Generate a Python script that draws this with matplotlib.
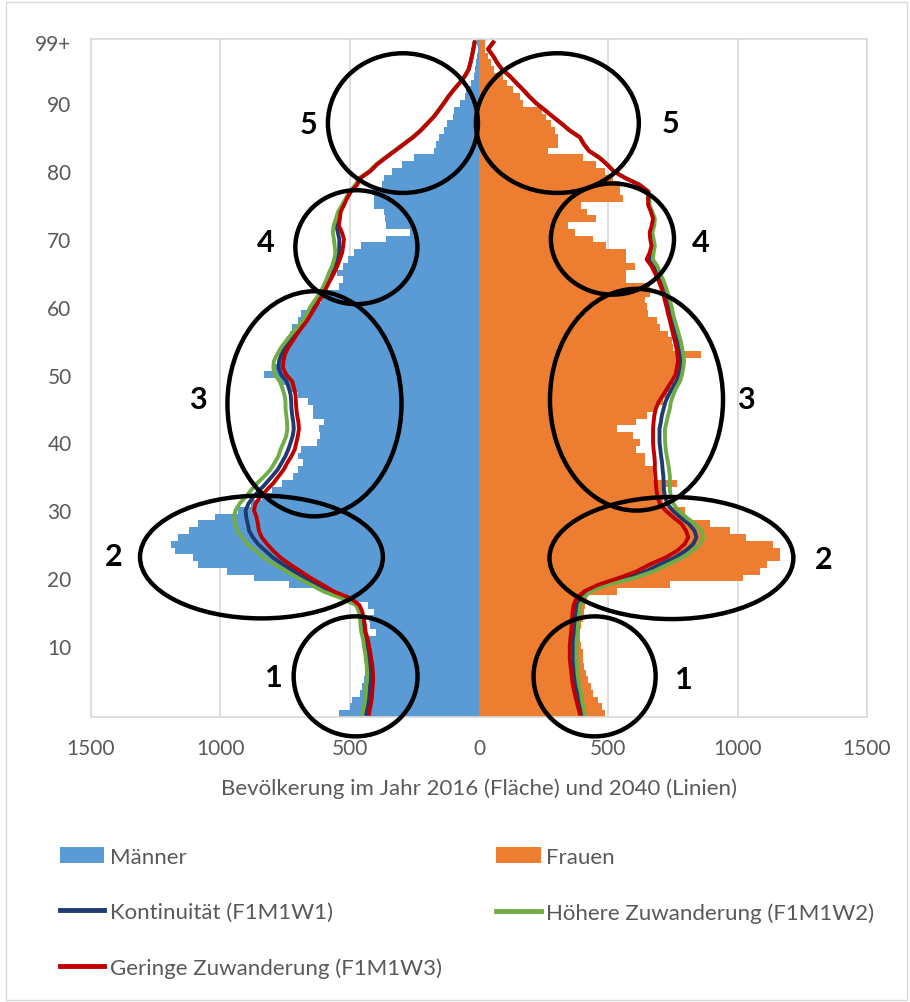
import numpy as np
import matplotlib
matplotlib.use("Agg")
import matplotlib.pyplot as plt
from matplotlib.patches import Ellipse, Patch, Rectangle
from matplotlib.lines import Line2D

plt.rcParams['font.family'] = ['Lato', 'DejaVu Sans']

# Altersjahre 0 .. 99+ (eine Zeile je Jahrgang)
ages = np.arange(100)
age_ticks = [10, 20, 30, 40, 50, 60, 70, 80, 90, 99]
age_tick_labels = ['10', '20', '30', '40', '50', '60', '70', '80', '90', '99+']
x_ticks = [-1500, -1000, -500, 0, 500, 1000, 1500]

# Bevölkerung 2016 (Flächen)
maenner_2016 = [540, 498, 490, 460, 452, 446, 440, 438, 436, 432,
                430, 425, 400, 420, 425, 405, 430, 505, 575, 735,
                870, 975, 1085, 1105, 1175, 1190, 1165, 1120, 1085, 1020,
                930, 880, 840, 800, 760, 720, 700, 680, 700, 690,
                625, 615, 620, 600, 640, 640, 660, 700, 730, 770,
                830, 795, 770, 760, 745, 745, 730, 722, 700, 690,
                640, 610, 600, 540, 525, 548, 524, 505, 485, 458,
                360, 265, 360, 362, 368, 405, 405, 412, 375, 368,
                335, 297, 252, 175, 168, 155, 136, 123, 100, 95,
                72, 55, 50, 30, 18, 14, 10, 7, 5, 8]
frauen_2016 = [487, 474, 461, 441, 435, 422, 415, 405, 403, 403,
               395, 390, 390, 395, 403, 405, 410, 416, 532, 738,
               1021, 1086, 1112, 1163, 1163, 1137, 1034, 970, 892, 796,
               796, 712, 712, 712, 764, 673, 673, 641, 641, 609,
               622, 596, 532, 609, 648, 690, 712, 725, 740, 750,
               770, 790, 790, 860, 750, 745, 731, 700, 690, 655,
               650, 641, 660, 660, 570, 570, 602, 570, 570, 493,
               441, 371, 345, 454, 416, 396, 557, 545, 545, 519,
               486, 454, 403, 267, 306, 306, 293, 280, 261, 242,
               171, 158, 132, 110, 93, 60, 48, 35, 25, 22]

# Bevölkerung 2040 je Variante (Linien)
maenner_w1 = [437, 431, 426, 424, 422, 420, 420, 422, 425, 429,
              434, 438, 446, 449, 452, 457, 468, 511, 578, 625,
              672, 715, 757, 796, 825, 854, 874, 889, 894, 900,
              902, 891, 871, 847, 823, 800, 778, 763, 748, 737,
              728, 720, 716, 718, 722, 725, 726, 728, 735, 744,
              765, 775, 773, 764, 750, 731, 713, 692, 671, 656,
              641, 625, 607, 594, 581, 569, 557, 548, 541, 540,
              540, 546, 551, 545, 540, 526, 512, 497, 474, 460,
              422, 396, 362, 326, 291, 256, 226, 201, 176, 156,
              137, 119, 98, 75, 55, 40, 33, 27, 22, 17]
maenner_w2 = [451, 445, 440, 438, 436, 433, 432, 434, 437, 440,
              445, 448, 455, 458, 460, 464, 475, 530, 600, 650,
              700, 745, 790, 831, 862, 896, 915, 935, 942, 948,
              941, 925, 902, 880, 857, 830, 806, 790, 775, 767,
              755, 745, 741, 742, 745, 748, 748, 752, 760, 770,
              790, 795, 793, 780, 765, 745, 725, 702, 680, 665,
              652, 634, 615, 602, 590, 580, 568, 560, 555, 558,
              561, 565, 562, 553, 545, 530, 515, 500, 478, 462,
              425, 398, 364, 328, 293, 258, 228, 203, 177, 157,
              138, 120, 99, 76, 56, 41, 33, 27, 22, 17]
maenner_w3 = [425, 420, 415, 413, 411, 409, 410, 412, 416, 420,
              425, 430, 438, 441, 445, 451, 462, 495, 560, 605,
              650, 690, 730, 767, 795, 819, 840, 851, 855, 860,
              870, 864, 845, 820, 795, 775, 755, 741, 725, 712,
              706, 700, 696, 698, 703, 706, 708, 709, 715, 722,
              745, 758, 756, 750, 738, 720, 703, 684, 664, 648,
              632, 617, 600, 588, 574, 560, 548, 538, 529, 525,
              522, 530, 542, 538, 535, 522, 510, 495, 471, 458,
              420, 394, 360, 325, 290, 255, 225, 200, 175, 155,
              136, 118, 98, 75, 55, 40, 33, 27, 22, 17]
frauen_w1 = [400, 395, 388, 384, 377, 373, 370, 368, 365, 365,
             365, 367, 370, 372, 374, 376, 380, 391, 419, 479,
             573, 646, 699, 756, 798, 828, 841, 833, 811, 778,
             748, 728, 719, 715, 714, 713, 710, 708, 704, 701,
             698, 698, 698, 703, 707, 714, 721, 733, 747, 763,
             774, 779, 783, 780, 775, 770, 762, 756, 748, 741,
             736, 729, 722, 713, 703, 691, 680, 661, 668, 674,
             669, 666, 674, 677, 668, 657, 656, 655, 621, 566,
             521, 496, 466, 426, 406, 390, 351, 320, 287, 255,
             222, 195, 171, 145, 120, 90, 70, 55, 35, 55]
frauen_w2 = [409, 404, 398, 395, 388, 384, 381, 379, 377, 377,
             377, 378, 381, 383, 385, 388, 392, 403, 430, 495,
             600, 675, 730, 785, 825, 855, 867, 860, 834, 800,
             770, 751, 742, 738, 738, 738, 735, 731, 726, 722,
             720, 719, 719, 725, 731, 738, 742, 751, 762, 777,
             785, 790, 793, 790, 785, 780, 772, 765, 757, 750,
             745, 738, 730, 722, 712, 700, 690, 672, 675, 680,
             675, 670, 678, 680, 670, 660, 658, 656, 622, 567,
             522, 497, 467, 427, 407, 391, 352, 321, 288, 256,
             223, 196, 171, 145, 120, 90, 70, 55, 35, 55]
frauen_w3 = [390, 383, 376, 370, 364, 360, 357, 354, 351, 351,
             351, 353, 356, 358, 360, 362, 366, 377, 405, 460,
             540, 610, 660, 720, 765, 795, 809, 800, 783, 750,
             720, 699, 690, 686, 684, 682, 680, 680, 678, 675,
             673, 673, 673, 675, 678, 684, 695, 712, 728, 745,
             760, 765, 770, 767, 763, 757, 750, 744, 738, 731,
             725, 718, 712, 703, 693, 680, 667, 648, 660, 667,
             662, 660, 668, 673, 665, 654, 654, 654, 620, 565,
             520, 495, 465, 425, 405, 390, 351, 320, 287, 255,
             222, 195, 171, 145, 120, 90, 70, 55, 35, 55]

szenarien = [
    ("Kontinuität (F1M1W1)", maenner_w1, frauen_w1, "#1F3A70"),
    ("Höhere Zuwanderung (F1M1W2)", maenner_w2, frauen_w2, "#70AD47"),
    ("Geringe Zuwanderung (F1M1W3)", maenner_w3, frauen_w3, "#C00000"),
]

# Markierte Bereiche: Mittelpunkt, Breite, Höhe (Datenkoordinaten), Nummer und deren Lage
markierungen = [
    (-294, 87.1, 580, 20.6, "5", -659, 87.0),
    (303, 87.1, 630, 20.6, "5", 740, 87.1),
    (-474, 68.8, 472, 16.8, "4", -825, 69.6),
    (516, 70.0, 476, 16.4, "4", 856, 69.6),
    (-636, 45.7, 673, 33.2, "3", -1088, 46.4),
    (609, 46.3, 669, 32.7, "3", 1030, 46.4),
    (-841, 23.1, 939, 18.1, "2", -1413, 23.2),
    (744, 22.95, 943, 18.0, "2", 1332, 22.8),
    (-477, 5.5, 479, 17.7, "1", -794, 5.4),
    (447, 5.5, 472, 17.7, "1", 791, 5.1),
]

c_m = "#5B9BD5"
c_f = "#ED7D31"
grau = "#595959"
gitter = "#D9D9D9"

fig = plt.figure(figsize=(9.10, 10.03), dpi=100)
fig.patches.append(Rectangle((6 / 910, 2 / 1003), 901 / 910, 998 / 1003,
                             transform=fig.transFigure, fill=False,
                             edgecolor=gitter, linewidth=1.0))
ax = fig.add_axes([0.1, 0.2841, 0.8527, 0.676])

ax.barh(ages, -np.array(maenner_2016), height=1.0, color=c_m, linewidth=0, zorder=2)
ax.barh(ages, frauen_2016, height=1.0, color=c_f, linewidth=0, zorder=2)

for name, m, f, col in szenarien:
    ax.plot(-np.array(m), ages, color=col, lw=2.8, zorder=3, solid_joinstyle='round')
    ax.plot(f, ages, color=col, lw=2.8, zorder=3, solid_joinstyle='round')

for cx, cy, w, h, nr, tx, ty in markierungen:
    ax.add_patch(Ellipse((cx, cy), w, h, fill=False, edgecolor="black",
                         linewidth=3.2, zorder=5, clip_on=False))
    ax.text(tx, ty, nr, fontsize=22, fontweight="bold", color="black",
            ha="center", va="center", zorder=6)

ax.set_xlim(-1500, 1500)
ax.set_ylim(-0.5, 99.5)
ax.set_xticks(x_ticks)
ax.set_xticklabels([str(abs(v)) for v in x_ticks])
ax.set_yticks(age_ticks)
ax.set_yticklabels(age_tick_labels)
ax.tick_params(length=0, colors=grau, labelsize=15)
ax.tick_params(axis="x", pad=15)
ax.tick_params(axis="y", pad=14)
ax.grid(axis="x", color=gitter, lw=1.2, zorder=0)
ax.set_axisbelow(True)
for s in ax.spines.values():
    s.set_color(gitter)
    s.set_linewidth(1.2)
ax.set_xlabel("Bevölkerung im Jahr 2016 (Fläche) und 2040 (Linien)",
              fontsize=16, color=grau, labelpad=14)

handles = [
    Patch(facecolor=c_m, edgecolor="none"),
    Line2D([], [], color=szenarien[0][3], lw=3.5),
    Line2D([], [], color=szenarien[2][3], lw=3.5),
    Patch(facecolor=c_f, edgecolor="none"),
    Line2D([], [], color=szenarien[1][3], lw=3.5),
]
labels = ["Männer", szenarien[0][0], szenarien[2][0], "Frauen", szenarien[1][0]]
fig.legend(handles, labels, ncol=2, loc="upper left",
           bbox_to_anchor=(60 / 910, 1 - 848 / 1003), frameon=False,
           fontsize=16, labelcolor=grau, handlelength=2.0, handleheight=0.7,
           handletextpad=0.25, labelspacing=1.58, columnspacing=2.45,
           borderpad=0, borderaxespad=0)

fig.savefig("out.png", dpi=100)
